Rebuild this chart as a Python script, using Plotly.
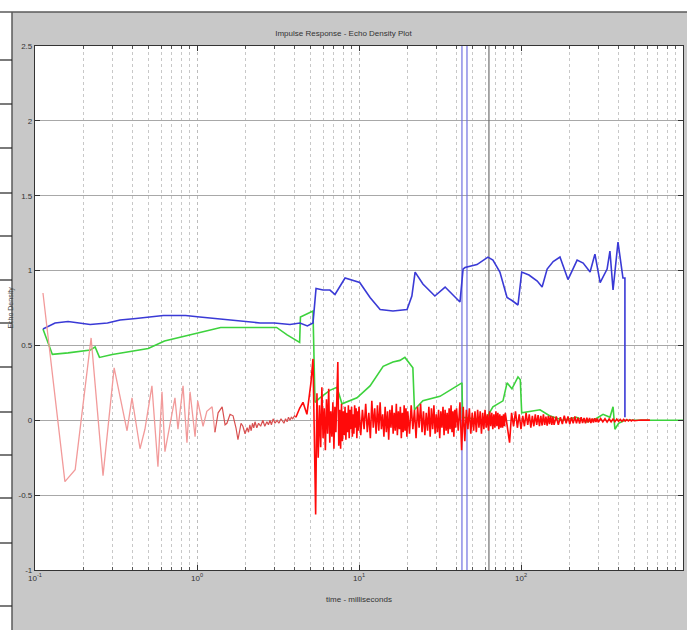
import plotly.graph_objects as go

# ---------------- data (time in ms) ----------------
blue_t = [0.112, 0.133, 0.16, 0.219, 0.28, 0.335, 0.42, 0.513, 0.62, 0.731, 0.85, 1.04, 1.3, 1.6, 2.0,
          2.45, 3.0, 3.75, 4.32, 4.8, 5.2, 5.43, 6.0, 6.62, 7.11, 8.2, 10.1, 11.7, 13.5, 16.2, 19.8,
          21.2, 22.2, 24.8, 29.4, 34.0, 42.0, 43.9, 45.1, 53.5, 62.5, 67.1, 74.1, 82.0, 88.0, 95.8,
          101, 112, 126, 135, 145, 158, 174, 195, 222, 242, 267, 286, 308, 340, 354, 370, 397, 426,
          438, 438]
blue_v = [0.61, 0.65, 0.66, 0.64, 0.65, 0.67, 0.68, 0.69, 0.70, 0.70, 0.70, 0.69, 0.68, 0.67, 0.66,
          0.65, 0.65, 0.64, 0.65, 0.63, 0.65, 0.88, 0.87, 0.87, 0.84, 0.95, 0.92, 0.82, 0.74, 0.73, 0.74,
          0.83, 0.99, 0.91, 0.83, 0.89, 0.79, 1.01, 1.02, 1.04, 1.09, 1.07, 0.99, 0.82, 0.80, 0.77,
          0.99, 0.97, 0.93, 0.89, 1.01, 1.06, 1.09, 0.94, 1.07, 1.05, 0.99, 1.11, 0.92, 1.01, 1.13, 0.87,
          1.19, 0.95, 0.95, 0.02]

green_t = [0.112, 0.128, 0.16, 0.22, 0.235, 0.25, 0.30, 0.39, 0.50, 0.63, 0.82, 1.04, 1.4, 2.05, 3.1,
           3.6, 4.3, 4.35, 5.2, 5.35, 5.74, 6.6, 7.31, 7.85, 9.72, 11.7, 14.1, 16.2, 17.9, 19.2, 20.5,
           21.5, 22.0, 24.8, 31.6, 38.0, 43.2, 43.6, 50, 60, 67.1, 77.4, 82, 87.9, 95.8, 99, 101, 115,
           131, 150, 181, 220, 255, 290, 321, 354, 370, 380, 400, 438, 600, 1000]
green_v = [0.61, 0.44, 0.45, 0.47, 0.49, 0.42, 0.44, 0.46, 0.48, 0.53, 0.56, 0.59, 0.62, 0.62, 0.62,
           0.57, 0.52, 0.69, 0.73, 0.12, 0.15, 0.20, 0.22, 0.11, 0.15, 0.23, 0.36, 0.39, 0.40, 0.42, 0.38,
           0.35, 0.07, 0.13, 0.16, 0.21, 0.25, 0.02, 0.01, 0.00, 0.09, 0.13, 0.25, 0.21, 0.29, 0.27, 0.05, 0.06,
           0.07, 0.03, 0.00, 0.02, -0.01, 0.01, 0.04, 0.02, 0.09, -0.06, -0.02, 0.00, 0.00, 0.00]

# red: early slow oscillation
red_early_t = [0.112, 0.153, 0.177, 0.222, 0.263, 0.308, 0.370, 0.397, 0.445, 0.477, 0.527, 0.574,
               0.608, 0.634, 0.731, 0.763, 0.820, 0.867, 0.906, 0.973, 1.01, 1.09, 1.15, 1.24, 1.29]
red_early_v = [0.85, -0.41, -0.33, 0.55, -0.37, 0.35, -0.07, 0.15, -0.19, -0.06, 0.23, -0.31,
               0.19, -0.21, 0.15, -0.06, 0.23, -0.15, 0.19, -0.11, 0.13, -0.04, 0.06, 0.09, -0.08]
# red: noisy tail of the direct part
red_mid_t = [1.29, 1.35, 1.43, 1.49, 1.53, 1.60, 1.67, 1.74, 1.79, 1.87, 1.92, 1.98, 2.04, 2.08, 2.12,
             2.16, 2.2, 2.24, 2.28, 2.34, 2.4, 2.47, 2.55, 2.62, 2.7, 2.76, 2.82, 2.88, 2.95, 3.03,
             3.12, 3.2, 3.3, 3.37, 3.44, 3.52, 3.6, 3.67, 3.75, 3.82, 3.9, 4.0, 4.08]
red_mid_v = [-0.08, 0.05, 0.09, -0.03, -0.02, 0.04, 0.03, -0.05, -0.13, -0.02, -0.04, -0.09, -0.05,
             -0.08, -0.03, -0.07, -0.02, -0.05, -0.01, -0.05, -0.02, -0.04, 0.0, -0.04, -0.01, -0.03,
             0.0, -0.03, 0.01, -0.02, 0.0, -0.02, 0.01, -0.01, -0.02, 0.01, -0.01, 0.02, 0.0, 0.02,
             0.01, 0.03, 0.02]
# red: dense reflections, in segments of the time axis
red_s0_t = [4.08, 4.3, 4.51, 4.77, 5.05, 5.2, 5.3]
red_s0_v = [0.02, 0.08, 0.12, 0.04, 0.25, 0.41, -0.10]
red_s1_t = [5.4, 5.5, 5.6, 5.7, 5.8, 5.9, 6.0, 6.1, 6.2, 6.3, 6.4, 6.5, 6.6, 6.7, 6.8, 6.9, 7.0, 7.1,
            7.2, 7.3, 7.4, 7.5, 7.6, 7.7, 7.8, 7.9, 8.0, 8.1, 8.2, 8.3, 8.4, 8.5, 8.6, 8.7, 8.8, 8.9,
            9.0, 9.1, 9.2, 9.3, 9.4, 9.5, 9.6, 9.7, 9.8, 9.9, 10.0]
red_s1_v = [-0.63, 0.18, -0.25, 0.10, -0.18, 0.22, -0.12, 0.08, -0.20, 0.14, -0.09, 0.21, -0.15, 0.06,
            -0.11, 0.12, -0.19, 0.09, -0.08, 0.15, 0.39, -0.17, 0.07, -0.19, 0.11, -0.14, 0.06, -0.10,
            0.09, -0.13, 0.05, -0.08, 0.10, -0.12, 0.07, -0.06, 0.09, -0.11, 0.04, -0.09, 0.10, -0.05,
            0.08, -0.12, 0.06, -0.07, 0.09]
red_s2_t = [10.25, 10.5, 10.75, 11.0, 11.25, 11.5, 11.75, 12.0, 12.25, 12.5, 12.75, 13.0, 13.25, 13.5,
            13.75, 14.0, 14.25, 14.5, 14.75, 15.0, 15.25, 15.5, 15.75, 16.0, 16.25, 16.5, 16.75, 17.0,
            17.25, 17.5, 17.75, 18.0, 18.25, 18.5, 18.75, 19.0, 19.25, 19.5, 19.75, 20.0]
red_s2_v = [-0.10, 0.07, -0.06, 0.11, -0.08, 0.05, -0.12, 0.13, -0.05, 0.08, -0.09, 0.10, -0.07, 0.12,
            -0.06, 0.04, -0.11, 0.09, -0.08, 0.06, -0.13, 0.07, -0.05, 0.10, -0.09, 0.05, -0.07, 0.11,
            -0.10, 0.06, -0.06, 0.09, -0.12, 0.05, -0.08, 0.10, -0.07, 0.08, -0.11, 0.06]
red_s3_t = [20.5, 21.0, 21.5, 22.0, 22.5, 23.0, 23.5, 24.0, 24.5, 25.0, 25.5, 26.0, 26.5, 27.0, 27.5,
            28.0, 28.5, 29.0, 29.5, 30.0, 30.5, 31.0, 31.5, 32.0, 32.5, 33.0, 33.5, 34.0, 34.5, 35.0,
            35.5, 36.0, 36.5, 37.0, 37.5, 38.0, 38.5, 39.0, 39.5, 40.0]
red_s3_v = [-0.09, 0.10, -0.06, 0.07, -0.12, 0.09, -0.05, 0.11, -0.08, 0.06, -0.10, 0.05, -0.07, 0.09,
            -0.11, 0.08, -0.06, 0.10, -0.09, 0.04, -0.08, 0.07, -0.12, 0.06, -0.05, 0.09, -0.10, 0.07,
            -0.07, 0.05, -0.09, 0.08, -0.06, 0.10, -0.08, 0.06, -0.11, 0.07, -0.05, 0.08]
red_s4_t = [41, 42, 43, 44, 45, 46, 47, 48, 49, 50, 51, 52, 53, 54, 55, 56, 57, 58, 59, 60, 61, 62, 63,
            64, 65, 66, 67, 68, 69, 70, 71, 72, 73, 74, 75, 76, 77, 78, 79, 80]
red_s4_v = [-0.07, 0.12, -0.20, 0.09, -0.14, 0.07, -0.06, 0.08, -0.09, 0.05, -0.07, 0.06, -0.08, 0.07,
            -0.05, 0.06, -0.09, 0.05, -0.06, 0.07, -0.05, 0.04, -0.07, 0.06, -0.04, 0.05, -0.06, 0.04,
            -0.05, 0.06, -0.04, 0.05, -0.06, 0.04, -0.05, 0.03, -0.05, 0.04, -0.04, 0.05]
red_s5_t = [82.5, 85, 87.5, 90, 92.5, 95, 97.5, 100, 102.5, 105, 107.5, 110, 112.5, 115, 117.5, 120,
            122.5, 125, 127.5, 130, 132.5, 135, 137.5, 140, 142.5, 145, 147.5, 150, 152.5, 155, 157.5, 160]
red_s5_v = [-0.05, -0.15, 0.05, -0.04, 0.06, -0.05, 0.04, -0.06, 0.03, -0.04, 0.05, -0.03, 0.04, -0.05,
            0.03, -0.04, 0.04, -0.03, 0.035, -0.04, 0.03, -0.035, 0.04, -0.03, 0.025, -0.035, 0.03,
            -0.025, 0.03, -0.03, 0.025, -0.03]
red_s6_t = [165, 170, 175, 180, 185, 190, 195, 200, 205, 210, 215, 220, 225, 230, 235, 240, 245, 250,
            255, 260, 265, 270, 275, 280, 285, 290, 295, 300]
red_s6_v = [0.025, -0.03, 0.02, -0.025, 0.03, -0.02, 0.025, -0.025, 0.02, -0.02, 0.025, -0.02, 0.018,
            -0.022, 0.02, -0.018, 0.015, -0.02, 0.018, -0.015, 0.015, -0.018, 0.012, -0.015, 0.014,
            -0.012, 0.012, -0.013]
red_s7_t = [310, 320, 330, 340, 350, 360, 370, 380, 390, 400, 410, 420, 430, 440, 450, 460, 470, 480,
            490, 500, 550, 625]
red_s7_v = [0.012, -0.01, 0.01, -0.012, 0.009, -0.01, 0.008, -0.009, 0.008, -0.007, 0.006, -0.007,
            0.006, -0.005, 0.005, -0.005, 0.004, -0.004, 0.003, -0.003, 0.002, 0.001]

# vertical markers (ms)
marker_blue_t = [43.2, 46.4]
marker_gray_t = [63.4]

x_ticks = [0.1, 1, 10, 100, 1000]
x_ticktext = ["10<sup>-1</sup>", "10<sup>0</sup>", "10<sup>1</sup>", "10<sup>2</sup>", "10<sup>3</sup>"]
y_ticks = [-1, -0.5, 0, 0.5, 1, 1.5, 2, 2.5]
y_ticktext = ["-1", "-0.5", "0", "0.5", "1", "1.5", "2", "2.5"]
y_range = [-1, 2.5]

title_text = "Impulse Response - Echo Density Plot"
x_title = "time - milliseconds"
y_title = "Echo Density"

red_late_t = red_s0_t + red_s1_t + red_s2_t + red_s3_t + red_s4_t + red_s5_t + red_s6_t + red_s7_t
red_late_v = red_s0_v + red_s1_v + red_s2_v + red_s3_v + red_s4_v + red_s5_v + red_s6_v + red_s7_v

# ---------------- figure ----------------
W, H = 687, 630
ML, MR, MT, MB = 35, 4, 46, 60
PW, PH = W - ML - MR, H - MT - MB


def px(x):
    return (x - ML) / PW


def py(y):
    return (H - MB - y) / PH


fig = go.Figure()

for t in marker_blue_t:
    fig.add_trace(go.Scatter(x=[t, t], y=y_range, mode="lines",
                             line=dict(color="#7070e0", width=1.2), hoverinfo="skip"))
for t in marker_gray_t:
    fig.add_trace(go.Scatter(x=[t, t], y=y_range, mode="lines",
                             line=dict(color="#707070", width=1.2), hoverinfo="skip"))

fig.add_trace(go.Scatter(x=green_t, y=green_v, mode="lines",
                         line=dict(color="#3dd23d", width=1.6)))
fig.add_trace(go.Scatter(x=blue_t, y=blue_v, mode="lines",
                         line=dict(color="#3a3ad6", width=1.6)))
fig.add_trace(go.Scatter(x=red_early_t, y=red_early_v, mode="lines",
                         line=dict(color="#f29a9a", width=1.3)))
fig.add_trace(go.Scatter(x=red_mid_t, y=red_mid_v, mode="lines",
                         line=dict(color="#d85050", width=1.2)))
fig.add_trace(go.Scatter(x=red_late_t, y=red_late_v, mode="lines",
                         line=dict(color="#ff0a0a", width=1.6)))

shapes = []
# white strips of the surrounding window (top and left)
shapes.append(dict(type="rect", xref="paper", yref="paper",
                   x0=px(-2), x1=px(W + 2), y0=py(12), y1=py(-2),
                   fillcolor="white", line=dict(width=0), layer="below"))
shapes.append(dict(type="rect", xref="paper", yref="paper",
                   x0=px(-2), x1=px(12), y0=py(H + 2), y1=py(12),
                   fillcolor="white", line=dict(width=0), layer="below"))
shapes.append(dict(type="line", xref="paper", yref="paper",
                   x0=px(0), x1=px(W), y0=py(12), y1=py(12),
                   line=dict(color="#5a5a5a", width=1.5)))
shapes.append(dict(type="line", xref="paper", yref="paper",
                   x0=px(12), x1=px(12), y0=py(12), y1=py(H),
                   line=dict(color="#5a5a5a", width=1.5)))
for yy in [60, 104, 148, 193, 236, 280, 323, 367, 412, 455, 498, 543, 606]:
    shapes.append(dict(type="line", xref="paper", yref="paper",
                       x0=px(0), x1=px(12), y0=py(yy), y1=py(yy),
                       line=dict(color="#222222", width=1.2)))

font_family = "Liberation Sans, Arial, sans-serif"

fig.update_layout(
    width=W, height=H,
    margin=dict(l=ML, r=MR, t=MT, b=MB, pad=0),
    paper_bgcolor="#c8c8c8",
    plot_bgcolor="white",
    showlegend=False,
    shapes=shapes,
    font=dict(family=font_family, size=8, color="#333333"),
    title=dict(text=title_text, x=px(359), xanchor="center", y=1 - 33 / H, yanchor="middle",
               font=dict(size=8, color="#333333")),
)

fig.update_xaxes(
    type="log", range=[-1, 3],
    tickvals=x_ticks, ticktext=x_ticktext,
    ticks="inside", ticklen=5, tickcolor="#333",
    showline=True, linecolor="#333333", linewidth=1.2, mirror="ticks",
    showgrid=True, gridcolor="#bdbdbd", griddash="dot", gridwidth=1,
    minor=dict(dtick="D1", ticks="inside", ticklen=3, tickcolor="#555",
               showgrid=True, gridcolor="#c8c8c8", griddash="dot", gridwidth=1),
    title=dict(text=x_title, font=dict(size=8, color="#333333"), standoff=14),
    tickfont=dict(size=8, color="#333333"),
    zeroline=False,
)
fig.update_yaxes(
    range=y_range,
    tickvals=y_ticks, ticktext=y_ticktext,
    ticks="inside", ticklen=5, tickcolor="#333",
    showline=True, linecolor="#333333", linewidth=1.2, mirror="ticks",
    showgrid=True, gridcolor="#a8a8a8", gridwidth=1,
    title=dict(text=y_title, font=dict(size=7, color="#444444"), standoff=4),
    tickfont=dict(size=8, color="#333333"),
    zeroline=False,
)

fig.write_html("out.html",
               config={"displayModeBar": False},
               post_script="document.body.style.margin='0';document.body.style.overflow='hidden';")
